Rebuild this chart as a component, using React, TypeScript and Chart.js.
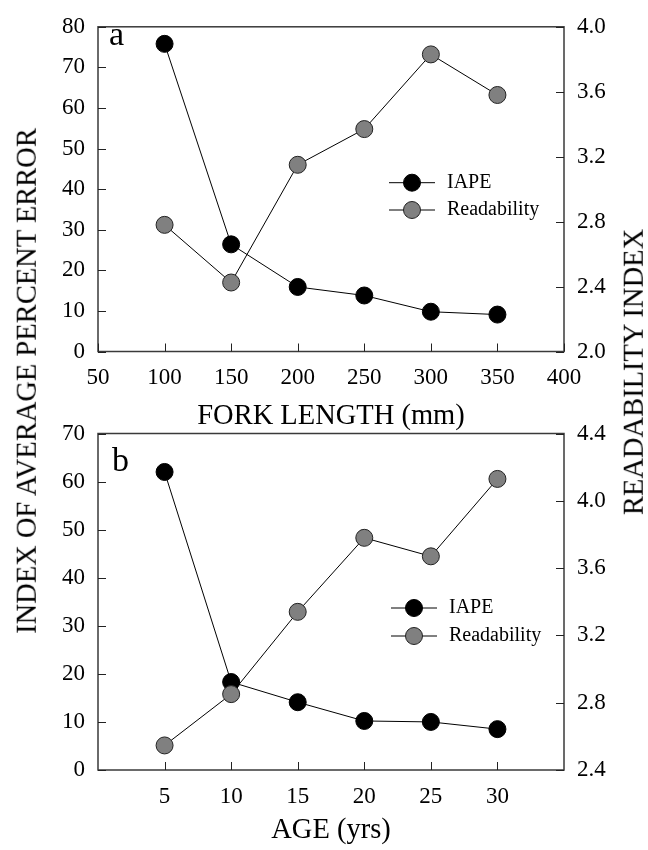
import React, { useEffect, useRef } from "react";
import { Chart, registerables } from "chart.js";

Chart.register(...registerables);

const FONT = "'Liberation Serif', 'Times New Roman', Times, serif";

// ---------- Panel a : fork length ----------
const forkLength = [100, 150, 200, 250, 300, 350];
const iapeByLength = [75.8, 26.4, 15.9, 13.8, 9.8, 9.1];
const readByLength = [2.78, 2.425, 3.15, 3.37, 3.83, 3.58];
const lengthTicks = [50, 100, 150, 200, 250, 300, 350, 400];
const iapeTicksA = [0, 10, 20, 30, 40, 50, 60, 70, 80];
const readTicksA = [2.0, 2.4, 2.8, 3.2, 3.6, 4.0];

// ---------- Panel b : age ----------
const ageYrs = [5, 10, 15, 20, 25, 30];
const iapeByAge = [62.0, 18.3, 14.1, 10.2, 10.0, 8.5];
const readByAge = [2.546, 2.851, 3.34, 3.78, 3.67, 4.13];
const ageTicks = [5, 10, 15, 20, 25, 30];
const iapeTicksB = [0, 10, 20, 30, 40, 50, 60, 70];
const readTicksB = [2.4, 2.8, 3.2, 3.6, 4.0, 4.4];

const seriesNames = ["IAPE", "Readability"];

const W = 648;
const TICK_FONT = 23;
const TITLE_FONT = 28.5;
const LEGEND_FONT = 20;
const LETTER_FONT = 34;
const POINT_R = 8.5;
const GRAY = "#808080";

type Spec = {
  height: number;
  area: { left: number; right: number; top: number; bottom: number };
  xMin: number; xMax: number; xTicks: number[];
  yMin: number; yMax: number; yTicks: number[];
  y1Min: number; y1Max: number; y1Ticks: number[];
  xs: number[]; iape: number[]; read: number[];
  letter: string; letterX: number; letterBase: number;
  xTitle: string; xTitleBase: number;
  legend: { x0: number; x1: number; tx: number; rows: number[] };
};

function makePlugin(spec: Spec) {
  return {
    id: "panelDecor",
    beforeDatasetsDraw(chart: any) {
      const { ctx, chartArea: a } = chart;
      ctx.save();
      ctx.strokeStyle = "#3a3a3a";
      ctx.lineWidth = 1.5;
      ctx.strokeRect(a.left, a.top, a.right - a.left, a.bottom - a.top);
      const L = 8;
      ctx.strokeStyle = "#222";
      ctx.lineWidth = 1;
      ctx.beginPath();
      const sx = chart.scales.x, sy = chart.scales.y, sy1 = chart.scales.y1;
      sx.ticks.forEach((t: any) => {
        const p = Math.round(sx.getPixelForValue(t.value)) + 0.5;
        ctx.moveTo(p, a.bottom);
        ctx.lineTo(p, a.bottom - L);
      });
      sy.ticks.forEach((t: any) => {
        const p = Math.round(sy.getPixelForValue(t.value)) + 0.5;
        ctx.moveTo(a.left, p);
        ctx.lineTo(a.left + L, p);
      });
      sy1.ticks.forEach((t: any) => {
        const p = Math.round(sy1.getPixelForValue(t.value)) + 0.5;
        ctx.moveTo(a.right, p);
        ctx.lineTo(a.right - L, p);
      });
      ctx.stroke();
      ctx.restore();
    },
    afterDraw(chart: any) {
      const { ctx, chartArea: a } = chart;
      ctx.save();
      // legend
      const lg = spec.legend;
      const fills = ["#000", GRAY];
      const borders = ["#000", "#222"];
      seriesNames.forEach((name, i) => {
        const y = lg.rows[i];
        ctx.strokeStyle = "#000";
        ctx.lineWidth = 1;
        ctx.beginPath();
        ctx.moveTo(lg.x0, y);
        ctx.lineTo(lg.x1, y);
        ctx.stroke();
        ctx.beginPath();
        ctx.arc((lg.x0 + lg.x1) / 2, y, POINT_R, 0, Math.PI * 2);
        ctx.fillStyle = fills[i];
        ctx.fill();
        ctx.strokeStyle = borders[i];
        ctx.stroke();
        ctx.fillStyle = "#000";
        ctx.font = `${LEGEND_FONT}px ${FONT}`;
        ctx.textAlign = "left";
        ctx.textBaseline = "middle";
        ctx.fillText(name, lg.tx, y);
      });
      // panel letter
      ctx.font = `${LETTER_FONT}px ${FONT}`;
      ctx.textAlign = "left";
      ctx.textBaseline = "alphabetic";
      ctx.fillText(spec.letter, spec.letterX, spec.letterBase);
      // x title
      ctx.font = `${TITLE_FONT}px ${FONT}`;
      ctx.textAlign = "center";
      ctx.fillText(spec.xTitle, (a.left + a.right) / 2, spec.xTitleBase);
      ctx.restore();
    },
  };
}

function makeConfig(spec: Spec): any {
  const tickFont = { family: FONT, size: TICK_FONT };
  const setTicks = (arr: number[]) => (s: any) => {
    s.ticks = arr.map((v) => ({ value: v }));
  };
  return {
    type: "line",
    data: {
      datasets: [
        {
          label: seriesNames[0],
          data: spec.xs.map((x, i) => ({ x, y: spec.iape[i] })),
          yAxisID: "y",
          borderColor: "#000",
          borderWidth: 1,
          backgroundColor: "#000",
          pointBackgroundColor: "#000",
          pointBorderColor: "#000",
          pointBorderWidth: 1,
          pointRadius: POINT_R,
          tension: 0,
          order: 1,
          clip: false,
        },
        {
          label: seriesNames[1],
          data: spec.xs.map((x, i) => ({ x, y: spec.read[i] })),
          yAxisID: "y1",
          borderColor: "#000",
          borderWidth: 1,
          backgroundColor: GRAY,
          pointBackgroundColor: GRAY,
          pointBorderColor: "#222",
          pointBorderWidth: 1,
          pointRadius: POINT_R,
          tension: 0,
          order: 0,
          clip: false,
        },
      ],
    },
    options: {
      responsive: false,
      animation: false,
      events: [],
      layout: { padding: { top: spec.area.top, left: 0, right: 0, bottom: 0 } },
      plugins: { legend: { display: false }, tooltip: { enabled: false } },
      scales: {
        x: {
          type: "linear",
          position: "bottom",
          min: spec.xMin,
          max: spec.xMax,
          grid: { display: false, drawTicks: false },
          border: { display: false },
          ticks: { font: tickFont, color: "#000", padding: 13, maxRotation: 0, autoSkip: false },
          afterBuildTicks: setTicks(spec.xTicks),
          afterFit: (s: any) => {
            s.height = spec.height - spec.area.bottom;
          },
        },
        y: {
          type: "linear",
          position: "left",
          min: spec.yMin,
          max: spec.yMax,
          grid: { display: false, drawTicks: false },
          border: { display: false },
          ticks: { font: tickFont, color: "#000", padding: 13, autoSkip: false },
          afterBuildTicks: setTicks(spec.yTicks),
          afterFit: (s: any) => {
            s.width = spec.area.left;
          },
        },
        y1: {
          type: "linear",
          position: "right",
          min: spec.y1Min,
          max: spec.y1Max,
          grid: { display: false, drawTicks: false },
          border: { display: false },
          ticks: {
            font: tickFont,
            color: "#000",
            padding: 13,
            autoSkip: false,
            callback: (v: number) => Number(v).toFixed(1),
          },
          afterBuildTicks: setTicks(spec.y1Ticks),
          afterFit: (s: any) => {
            s.width = W - spec.area.right;
          },
        },
      },
    },
    plugins: [makePlugin(spec)],
  };
}

const TOP_A = 0;
const TOP_B = 400;

const specA: Spec = {
  height: 440,
  area: { left: 98, right: 564, top: 17.5, bottom: 351.5 },
  xMin: 50, xMax: 400, xTicks: lengthTicks,
  yMin: 0, yMax: 80, yTicks: iapeTicksA,
  y1Min: 2.0, y1Max: 4.0, y1Ticks: readTicksA,
  xs: forkLength, iape: iapeByLength, read: readByLength,
  letter: "a", letterX: 109, letterBase: 45,
  xTitle: "FORK LENGTH (mm)", xTitleBase: 423.5,
  legend: { x0: 389, x1: 435, tx: 447, rows: [182.7, 210] },
};

const specB: Spec = {
  height: 450,
  area: { left: 98, right: 564, top: 433.5 - TOP_B, bottom: 770 - TOP_B },
  xMin: 0, xMax: 35, xTicks: ageTicks,
  yMin: 0, yMax: 70, yTicks: iapeTicksB,
  y1Min: 2.4, y1Max: 4.4, y1Ticks: readTicksB,
  xs: ageYrs, iape: iapeByAge, read: readByAge,
  letter: "b", letterX: 112, letterBase: 471 - TOP_B,
  xTitle: "AGE (yrs)", xTitleBase: 838 - TOP_B,
  legend: { x0: 391, x1: 437, tx: 449, rows: [608 - TOP_B, 636 - TOP_B] },
};

export default function App() {
  const refA = useRef<HTMLCanvasElement | null>(null);
  const refB = useRef<HTMLCanvasElement | null>(null);

  useEffect(() => {
    const a = new Chart(refA.current as HTMLCanvasElement, makeConfig(specA));
    const b = new Chart(refB.current as HTMLCanvasElement, makeConfig(specB));
    return () => {
      a.destroy();
      b.destroy();
    };
  }, []);

  const titleStyle: React.CSSProperties = {
    position: "absolute",
    transform: "translate(-50%, -50%) rotate(-90deg)",
    fontFamily: FONT,
    fontSize: TITLE_FONT,
    lineHeight: 1,
    whiteSpace: "nowrap",
    color: "#000",
  };

  return (
    <div
      style={{
        position: "absolute",
        left: 0,
        top: 0,
        width: W,
        height: 850,
        background: "#fff",
        overflow: "hidden",
      }}
    >
      <canvas
        ref={refA}
        width={W}
        height={specA.height}
        style={{ position: "absolute", left: 0, top: TOP_A, width: W, height: specA.height }}
      />
      <canvas
        ref={refB}
        width={W}
        height={specB.height}
        style={{ position: "absolute", left: 0, top: TOP_B, width: W, height: specB.height }}
      />
      <div style={{ ...titleStyle, left: 27, top: 381 }}>INDEX OF AVERAGE PERCENT ERROR</div>
      <div style={{ ...titleStyle, left: 634, top: 372 }}>READABILITY INDEX</div>
    </div>
  );
}
